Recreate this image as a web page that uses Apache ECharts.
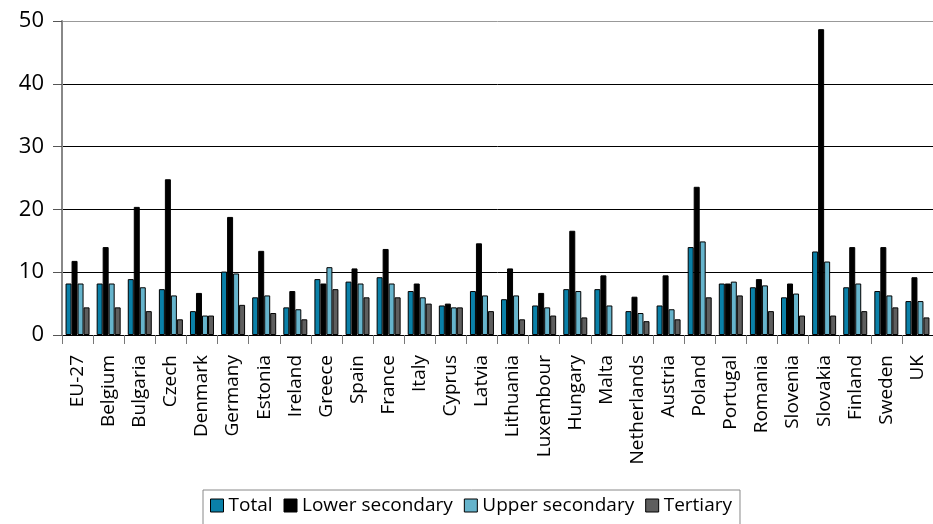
<!DOCTYPE html>
<html>
<head>
<meta charset="utf-8">
<script src="https://cdn.jsdelivr.net/npm/echarts@6/dist/echarts.min.js"></script>
<style>html,body{margin:0;padding:0;background:#fff;}#c{width:933px;height:524px;}</style>
</head>
<body>
<div id="c"></div>
<script>
var categories = ["EU-27","Belgium","Bulgaria","Czech","Denmark","Germany","Estonia","Ireland","Greece","Spain","France","Italy","Cyprus","Latvia","Lithuania","Luxembour","Hungary","Malta","Netherlands","Austria","Poland","Portugal","Romania","Slovenia","Slovakia","Finland","Sweden","UK"];
var seriesNames = ["Total","Lower secondary","Upper secondary","Tertiary"];
var total = [8.2,8.2,8.9,7.3,3.8,10.1,6.0,4.4,8.9,8.5,9.2,7.0,4.7,7.0,5.7,4.7,7.3,7.3,3.8,4.7,14.0,8.2,7.6,6.0,13.3,7.6,7.0,5.4];
var lowerSecondary = [11.8,14.0,20.4,24.8,6.7,18.8,13.4,7.0,8.2,10.6,13.7,8.2,5.0,14.6,10.6,6.7,16.6,9.5,6.1,9.5,23.6,8.2,8.9,8.2,48.7,14.0,14.0,9.2];
var upperSecondary = [8.2,8.2,7.6,6.3,3.1,9.8,6.3,4.1,10.8,8.2,8.2,6.0,4.4,6.3,6.3,4.4,7.0,4.7,3.5,4.1,14.9,8.5,7.9,6.6,11.7,8.2,6.3,5.4];
var tertiary = [4.4,4.4,3.8,2.5,3.1,4.8,3.5,2.5,7.3,6.0,6.0,5.0,4.4,3.8,2.5,3.1,2.8,null,2.2,2.5,6.0,6.3,3.8,3.1,3.1,3.8,4.4,2.8];
var yTicks = [0,10,20,30,40,50];

var colors = ["#0a80a8","#000000","#66b4cc","#5e5e5e"];
var dataSets = [total, lowerSecondary, upperSecondary, tertiary];
var font = "'Open Sans', 'DejaVu Sans', sans-serif";

var chart = echarts.init(document.getElementById('c'), null, {renderer:'canvas'});
var series = seriesNames.map(function(n,i){
  return {
    name: n, type: 'bar', data: dataSets[i],
    barWidth: 6, barGap: '0%',
    itemStyle: {color: colors[i], borderColor: '#000', borderWidth: 1},
    emphasis: {disabled: true}
  };
});
chart.setOption({
  animation: false,
  textStyle: {fontFamily: font},
  grid: {left: 62, top: 21, right: -5, bottom: 189, containLabel: false},
  legend: {
    data: seriesNames,
    left: 203, top: 490,
    orient: 'horizontal',
    itemWidth: 13, itemHeight: 13, itemGap: 11,
    icon: 'rect',
    borderColor: '#888', borderWidth: 1,
    padding: [6, 8, 12, 7],
    itemStyle: {borderColor: '#000', borderWidth: 1},
    textStyle: {fontFamily: font, fontSize: 19, color: '#000', padding: [0,0,0,0]}
  },
  xAxis: {
    type: 'category', data: categories,
    axisLine: {show: true, lineStyle: {color: '#000', width: 1}},
    axisTick: {show: true, alignWithLabel: false, length: 9, lineStyle: {color: '#777'}},
    axisLabel: {rotate: 90, interval: 0, margin: 20, fontSize: 19, color: '#000', fontFamily: font, padding: [0,0,10,0]}
  },
  yAxis: {
    type: 'value', min: 0, max: 50, interval: 10,
    axisLine: {show: true, lineStyle: {color: '#888', width: 2}},
    axisTick: {show: true, length: 9, lineStyle: {color: '#555'}},
    axisLabel: {fontSize: 22, color: '#000', margin: 18, fontFamily: font,
      formatter: function(v){ return yTicks.indexOf(v) >= 0 ? String(v) : ''; }},
    splitLine: {show: true, lineStyle: {color: ['#000','#000','#000','#000','#000','#999'], width: 1}}
  },
  series: series
});
</script>
</body>
</html>
